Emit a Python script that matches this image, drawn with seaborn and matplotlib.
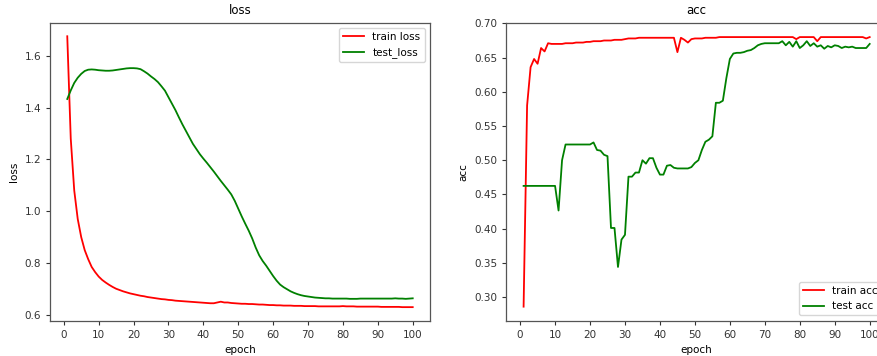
import numpy as np
import pandas as pd
import matplotlib
matplotlib.use("Agg")
import matplotlib.pyplot as plt
import seaborn as sns

# values
epochs = list(range(1, 101))

train_loss = [
    1.675, 1.28, 1.08, 0.97, 0.90, 0.85, 0.815, 0.785, 0.765, 0.748,
    0.735, 0.725, 0.716, 0.708, 0.701, 0.696, 0.691, 0.687, 0.683, 0.680,
    0.677, 0.674, 0.672, 0.669, 0.667, 0.665, 0.663, 0.661, 0.660, 0.658,
    0.657, 0.655, 0.654, 0.653, 0.652, 0.651, 0.650, 0.649, 0.648, 0.647,
    0.646, 0.645, 0.645, 0.648, 0.651, 0.648, 0.648, 0.646, 0.645, 0.644,
    0.643, 0.643, 0.642, 0.642, 0.641, 0.640, 0.640, 0.639, 0.638, 0.638,
    0.637, 0.637, 0.636, 0.636, 0.636, 0.635, 0.635, 0.635, 0.634, 0.634,
    0.634, 0.634, 0.633, 0.633, 0.633, 0.633, 0.633, 0.633, 0.633, 0.634,
    0.633, 0.633, 0.633, 0.632, 0.632, 0.632, 0.632, 0.632, 0.632, 0.632,
    0.631, 0.631, 0.631, 0.631, 0.631, 0.631, 0.630, 0.630, 0.630, 0.630,
]

test_loss = [
    1.433, 1.466, 1.495, 1.515, 1.530, 1.541, 1.546, 1.547, 1.546, 1.544,
    1.543, 1.542, 1.542, 1.543, 1.545, 1.547, 1.549, 1.551, 1.552, 1.552,
    1.551, 1.548, 1.540, 1.531, 1.520, 1.510, 1.498, 1.482, 1.465, 1.440,
    1.415, 1.390, 1.362, 1.335, 1.310, 1.285, 1.260, 1.240, 1.220, 1.203,
    1.187, 1.170, 1.153, 1.135, 1.117, 1.100, 1.083, 1.065, 1.040, 1.010,
    0.980, 0.952, 0.925, 0.895, 0.860, 0.830, 0.808, 0.790, 0.770, 0.750,
    0.732, 0.717, 0.707, 0.699, 0.691, 0.685, 0.680, 0.676, 0.673, 0.671,
    0.669, 0.667, 0.666, 0.665, 0.664, 0.664, 0.663, 0.663, 0.663, 0.663,
    0.663, 0.662, 0.662, 0.662, 0.663, 0.663, 0.663, 0.663, 0.663, 0.663,
    0.663, 0.663, 0.663, 0.663, 0.664, 0.663, 0.663, 0.662, 0.663, 0.664,
]

train_acc = [
    0.286, 0.580, 0.636, 0.648, 0.641, 0.664, 0.659, 0.671, 0.670, 0.670,
    0.670, 0.670, 0.671, 0.671, 0.671, 0.672, 0.672, 0.672, 0.673, 0.673,
    0.674, 0.674, 0.674, 0.675, 0.675, 0.675, 0.676, 0.676, 0.676, 0.677,
    0.678, 0.678, 0.678, 0.679, 0.679, 0.679, 0.679, 0.679, 0.679, 0.679,
    0.679, 0.679, 0.679, 0.679, 0.658, 0.679, 0.676, 0.672, 0.677, 0.678,
    0.678, 0.678, 0.679, 0.679, 0.679, 0.679, 0.680, 0.680, 0.680, 0.680,
    0.680, 0.680, 0.680, 0.680, 0.680, 0.680, 0.680, 0.680, 0.680, 0.680,
    0.680, 0.680, 0.680, 0.680, 0.680, 0.680, 0.680, 0.680, 0.677, 0.680,
    0.680, 0.680, 0.680, 0.680, 0.674, 0.680, 0.680, 0.680, 0.680, 0.680,
    0.680, 0.680, 0.680, 0.680, 0.680, 0.680, 0.680, 0.680, 0.678, 0.680,
]

test_acc = [
    0.4625, 0.4625, 0.4625, 0.4625, 0.4625, 0.4625, 0.4625, 0.4625, 0.4625, 0.4625,
    0.4265, 0.500, 0.523, 0.523, 0.523, 0.523, 0.523, 0.523, 0.523, 0.523,
    0.526, 0.515, 0.514, 0.508, 0.506, 0.401, 0.401, 0.344, 0.384, 0.391,
    0.476, 0.476, 0.482, 0.482, 0.500, 0.495, 0.503, 0.503, 0.489, 0.479,
    0.479, 0.492, 0.493, 0.489, 0.488, 0.488, 0.488, 0.488, 0.490, 0.496,
    0.500, 0.515, 0.527, 0.530, 0.535, 0.584, 0.584, 0.587, 0.620, 0.648,
    0.656, 0.657, 0.657, 0.658, 0.660, 0.661, 0.664, 0.668, 0.670, 0.671,
    0.671, 0.671, 0.671, 0.671, 0.674, 0.668, 0.673, 0.666, 0.674, 0.664,
    0.668, 0.674, 0.667, 0.671, 0.666, 0.668, 0.663, 0.667, 0.665, 0.668,
    0.667, 0.664, 0.666, 0.665, 0.666, 0.664, 0.664, 0.664, 0.664, 0.670,
]

df = pd.DataFrame({
    "epoch": epochs,
    "train_loss": train_loss,
    "test_loss": test_loss,
    "train_acc": train_acc,
    "test_acc": test_acc,
})

plt.rcParams.update({
    "font.family": ["DejaVu Sans"],
    "font.size": 7.5,
    "axes.edgecolor": "#555555",
    "axes.linewidth": 0.9,
    "xtick.color": "#333333",
    "ytick.color": "#333333",
    "xtick.labelsize": 7.5,
    "ytick.labelsize": 7.5,
    "xtick.major.size": 3,
    "ytick.major.size": 3,
})

fig = plt.figure(figsize=(8.77, 3.56), dpi=100)
ax1 = fig.add_axes([0.0570, 0.0992, 0.4333, 0.837])
ax2 = fig.add_axes([0.5773, 0.0992, 0.4341, 0.837])

sns.lineplot(data=df, x="epoch", y="train_loss", color="red", lw=1.3, label="train loss", ax=ax1)
sns.lineplot(data=df, x="epoch", y="test_loss", color="green", lw=1.3, label="test_loss", ax=ax1)
ax1.set_title("loss", fontsize=8.5)
ax1.set_xlabel("epoch")
ax1.set_ylabel("loss")
ax1.set_xticks(range(0, 101, 10))
ax1.legend(loc="upper right", fontsize=7.5, handlelength=2.0)

sns.lineplot(data=df, x="epoch", y="train_acc", color="red", lw=1.3, label="train acc", ax=ax2)
sns.lineplot(data=df, x="epoch", y="test_acc", color="green", lw=1.3, label="test acc", ax=ax2)
ax2.set_title("acc", fontsize=8.5)
ax2.set_xlabel("epoch")
ax2.set_ylabel("acc")
ax2.set_xticks(range(0, 101, 10))
ax2.set_ylim(0.2655, 0.701)
ax2.legend(loc="lower right", fontsize=7.5, handlelength=2.0)

fig.savefig("out.png", dpi=100)
